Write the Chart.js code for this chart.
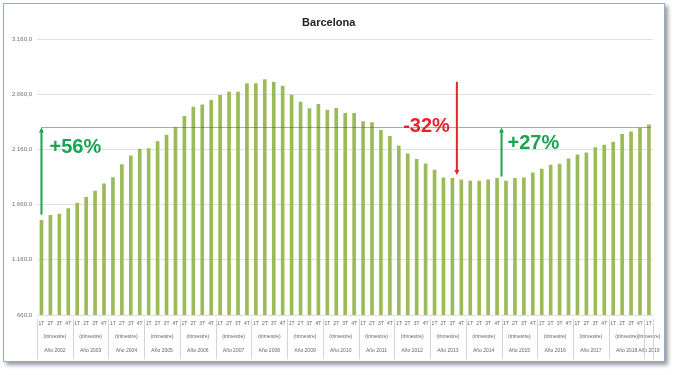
<!DOCTYPE html>
<html>
<head>
<meta charset="utf-8">
<script src="https://cdn.jsdelivr.net/npm/chart.js@4.4.0/dist/chart.umd.min.js"></script>
<style>
  html, body { margin: 0; padding: 0; background: #fff; }
  #frame {
    position: absolute; left: 3px; top: 3px;
    width: 660px; height: 357px;
    border: 1px solid #93a9cf;
    box-shadow: 3px 3px 4px rgba(0, 0, 0, 0.4);
    background: #fff;
  }
</style>
</head>
<body>
<div id="frame"><canvas id="priceChart"></canvas></div>
<script>
// years shown on the axis, 4 quarters each (2019 only has the first one)
var years = [2002, 2003, 2004, 2005, 2006, 2007, 2008, 2009, 2010,
             2011, 2012, 2013, 2014, 2015, 2016, 2017, 2018, 2019];
var quarterNames = ['1T', '2T', '3T', '4T'];

// price per quarter
var prices = [
    1518, 1563, 1575, 1624,   // 2002
    1675, 1727, 1784, 1848,   // 2003
    1906, 2024, 2102, 2163,   // 2004
    2169, 2233, 2290, 2360,   // 2005
    2460, 2545, 2566, 2605,   // 2006
    2651, 2681, 2681, 2757,   // 2007
    2757, 2793, 2772, 2736,   // 2008
    2654, 2590, 2530, 2569,   // 2009
    2518, 2534, 2489, 2489,   // 2010
    2414, 2405, 2333, 2279,   // 2011
    2192, 2120, 2072, 2030,   // 2012
    1973, 1904, 1898, 1886,   // 2013
    1874, 1874, 1886, 1898,   // 2014
    1874, 1898, 1904, 1949,   // 2015
    1982, 2018, 2027, 2075,   // 2016
    2111, 2129, 2177, 2201,   // 2017
    2228, 2297, 2321, 2354,   // 2018
    2384                      // 2019
];

var referenceLevel = 2360;

// arrows: category position, value where it starts, value where it points
var changeTexts = ['+56%', '-32%', '+27%'];
var changeAt = [0, 46.5, 51.5];
var changeFrom = [1569, 2774, 1915];
var changeTo = [2360, 1930, 2360];

var quarterLabels = prices.map(function (p, i) { return quarterNames[i % 4]; });
var yearOfBar = prices.map(function (p, i) { return years[Math.floor(i / 4)]; });

function formatValue(v) {
    var s = String(Math.round(v));
    s = s.replace(/\B(?=(\d{3})+(?!\d))/g, '.');
    return s + ',0';
}

var overlayPlugin = {
    id: 'overlay',
    afterDatasetsDraw: function (chart) {
        var ctx = chart.ctx;
        var x = chart.scales.x, y = chart.scales.y;
        ctx.save();

        // dotted reference line
        var yRef = Math.round(y.getPixelForValue(referenceLevel)) + 0.5;
        ctx.strokeStyle = '#555';
        ctx.lineWidth = 1;
        ctx.setLineDash([1, 1]);
        ctx.beginPath();
        ctx.moveTo(x.getPixelForValue(0), yRef);
        ctx.lineTo(x.getPixelForValue(prices.length - 1) + 2, yRef);
        ctx.stroke();
        ctx.setLineDash([]);

        // arrows + percentages
        var textPlace = [
            { dx: 8, align: 'left', value: 2174 },
            { dx: -7, align: 'right', value: 2367 },
            { dx: 6, align: 'left', value: 2217 }
        ];
        for (var i = 0; i < changeTexts.length; i++) {
            var color = changeTexts[i].charAt(0) === '-' ? '#e8232b' : '#18a450';
            var ax = x.getPixelForValue(changeAt[i]);
            var y0 = y.getPixelForValue(changeFrom[i]);
            var y1 = y.getPixelForValue(changeTo[i]);
            var dir = y1 < y0 ? -1 : 1;
            ctx.strokeStyle = color;
            ctx.fillStyle = color;
            ctx.lineWidth = 2;
            ctx.beginPath();
            ctx.moveTo(ax, y0);
            ctx.lineTo(ax, y1 - dir * 4);
            ctx.stroke();
            ctx.beginPath();
            ctx.moveTo(ax, y1);
            ctx.lineTo(ax - 2.5, y1 - dir * 5);
            ctx.lineTo(ax + 2.5, y1 - dir * 5);
            ctx.closePath();
            ctx.fill();

            var tp = textPlace[i];
            ctx.font = 'bold 20px "Liberation Sans", Arial, sans-serif';
            ctx.textAlign = tp.align;
            ctx.textBaseline = 'middle';
            ctx.fillText(changeTexts[i], ax + tp.dx, y.getPixelForValue(tp.value));
        }
        ctx.restore();
    },
    afterDraw: function (chart) {
        // second and third rows of the category axis: "(trimestre)" and "Año ..."
        var ctx = chart.ctx;
        var x = chart.scales.x;
        var base = chart.chartArea.bottom;
        ctx.save();
        ctx.font = '5px "Liberation Sans", Arial, sans-serif';
        ctx.fillStyle = '#666';
        ctx.textAlign = 'center';
        ctx.textBaseline = 'middle';
        ctx.strokeStyle = '#d4d4d4';
        ctx.lineWidth = 1;
        years.forEach(function (yr) {
            var first = yearOfBar.indexOf(yr);
            var last = yearOfBar.lastIndexOf(yr);
            var x0 = x.getPixelForValue(first - 0.5);
            var x1 = x.getPixelForValue(last + 0.5);
            var cx = (x0 + x1) / 2;
            ctx.fillText('(trimestre)', cx, base + 22);
            ctx.fillText('Año ' + yr, cx, base + 36);
            [x0, x1].forEach(function (sx) {
                ctx.beginPath();
                ctx.moveTo(Math.round(sx) + 0.5, base + 4);
                ctx.lineTo(Math.round(sx) + 0.5, base + 44);
                ctx.stroke();
            });
        });
        ctx.restore();
    }
};

var priceCtx = document.getElementById('priceChart').getContext('2d');
var priceChart = new Chart(priceCtx, {
    type: 'bar',
    data: {
        labels: quarterLabels,
        datasets: [{
            data: prices,
            backgroundColor: '#9bbb59',
            barThickness: 3
        }]
    },
    options: {
        responsive: true,
        maintainAspectRatio: false,
        animation: false,
        layout: { padding: { left: 0, right: 10.6, top: 0, bottom: 0 } },
        plugins: {
            legend: { display: false },
            tooltip: { enabled: false },
            title: {
                display: true,
                text: 'Barcelona',
                color: '#222',
                font: { family: '"Liberation Sans", Arial, sans-serif', size: 11, weight: 'bold' },
                padding: { top: 12, bottom: 10 }
            }
        },
        scales: {
            x: {
                grid: { display: false, drawTicks: false },
                border: { display: false },
                ticks: {
                    autoSkip: false,
                    maxRotation: 0,
                    minRotation: 0,
                    padding: 6,
                    color: '#666',
                    font: { family: '"Liberation Sans", Arial, sans-serif', size: 5 }
                },
                afterFit: function (scale) { scale.height = 46; }
            },
            y: {
                min: 660,
                max: 3160,
                grid: { color: '#e0e0e0', drawTicks: false },
                border: { display: false },
                ticks: {
                    stepSize: 500,
                    padding: 5,
                    color: '#707070',
                    font: { family: '"Liberation Sans", Arial, sans-serif', size: 6 },
                    callback: function (v) { return formatValue(v); }
                },
                afterFit: function (scale) { scale.width = 33; }
            }
        }
    },
    plugins: [overlayPlugin]
});
</script>
</body>
</html>
